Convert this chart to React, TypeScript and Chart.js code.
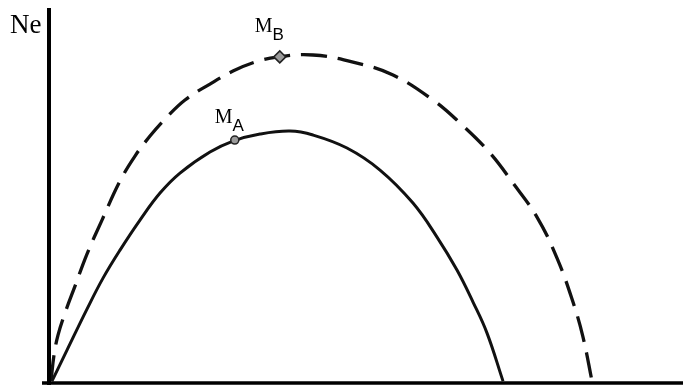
import React, { useEffect, useRef } from "react";
import { Chart, registerables } from "chart.js";

Chart.register(...registerables);

// Curve A (solid), arbitrary units
const solidX = [0.47, 2.84, 5.99, 8.52, 11.2, 14.35, 17.51, 20.66, 25.39, 29.02, 33.28, 38.01, 41.64, 47.0, 52.21, 57.41, 61.2, 64.35, 66.88, 69.09, 71.61];
const solidY = [0, 8.31, 19.3, 27.61, 35.12, 43.16, 50.4, 55.76, 61.39, 64.34, 66.22, 67.02, 65.95, 62.47, 56.57, 47.72, 38.61, 29.76, 21.18, 12.87, 0];

// Curve B (dashed)
const dashedX = [0.32, 0.79, 1.42, 2.52, 4.1, 5.99, 8.36, 11.2, 13.56, 15.93, 18.3, 21.45, 25.39, 29.02, 32.49, 35.96, 41.64, 47.95, 54.26, 60.57, 64.83, 69.56, 73.19, 76.97, 80.13, 82.65, 84.23, 85.65];
const dashedY = [0, 6.97, 12.33, 18.23, 25.47, 34.05, 43.16, 53.62, 60.32, 65.68, 70.24, 75.34, 79.62, 83.11, 85.52, 86.86, 87.4, 85.52, 82.04, 75.34, 69.17, 61.13, 53.08, 43.97, 32.98, 21.18, 11.8, 0];

// Marked points M_A, M_B
const markerNames = ["M", "M"];
const markerSubs = ["A", "B"];
const markerX = [29.3, 36.4];
const markerY = [64.6, 86.9];

const axisLabel = "Ne";

const toPts = (xs: number[], ys: number[]) => xs.map((x, i) => ({ x, y: ys[i] }));

const overlay = {
  id: "overlay",
  afterDatasetsDraw(chart: any) {
    const { ctx, chartArea } = chart;
    const xs = chart.scales.x;
    const ys = chart.scales.y;
    ctx.save();
    ctx.strokeStyle = "#000";
    // y axis
    ctx.lineWidth = 4;
    ctx.beginPath();
    ctx.moveTo(chartArea.left, chartArea.top);
    ctx.lineTo(chartArea.left, chart.height);
    ctx.stroke();
    // x axis
    ctx.lineWidth = 3.5;
    ctx.beginPath();
    ctx.moveTo(chartArea.left - 7, chartArea.bottom);
    ctx.lineTo(chartArea.right, chartArea.bottom);
    ctx.stroke();

    // axis label
    ctx.fillStyle = "#000";
    ctx.textBaseline = "alphabetic";
    ctx.textAlign = "left";
    ctx.font = "27px 'Liberation Serif', serif";
    ctx.fillText(axisLabel, chartArea.left - 39, chartArea.top + 25);

    // marker labels
    const offs = [
      { dx: -20, dy: -17 },
      { dx: -25, dy: -25 },
    ];
    markerNames.forEach((n, i) => {
      const px = xs.getPixelForValue(markerX[i]);
      const py = ys.getPixelForValue(markerY[i]);
      const o = offs[i];
      ctx.font = "20px 'Liberation Serif', serif";
      ctx.fillText(n, px + o.dx, py + o.dy);
      const w = ctx.measureText(n).width;
      ctx.font = "17px 'Liberation Sans', sans-serif";
      ctx.fillText(markerSubs[i], px + o.dx + w, py + o.dy + 8);
    });
    ctx.restore();
  },
};

export default function App() {
  const ref = useRef<HTMLCanvasElement | null>(null);
  useEffect(() => {
    if (!ref.current) return;
    const chart = new Chart(ref.current, {
      type: "scatter",
      data: {
        datasets: [
          {
            label: "markers",
            data: toPts(markerX, markerY),
            showLine: false,
            pointStyle: ["circle", "rectRot"],
            pointRadius: [4, 6],
            backgroundColor: "#9a9a9a",
            borderColor: "#222",
            borderWidth: 1.5,
          },
          {
            label: "A",
            data: toPts(solidX, solidY),
            showLine: true,
            borderColor: "#111",
            borderWidth: 3,
            pointRadius: 0,
            tension: 0.4,
            fill: false,
          },
          {
            label: "B",
            data: toPts(dashedX, dashedY),
            showLine: true,
            borderColor: "#111",
            borderWidth: 3.3,
            borderDash: [26, 11],
            pointRadius: 0,
            tension: 0.4,
            fill: false,
          },
        ],
      },
      options: {
        animation: false,
        responsive: false,
        maintainAspectRatio: false,
        layout: { autoPadding: false, padding: { left: 49, top: 8, right: 0, bottom: 2 } },
        plugins: { legend: { display: false }, tooltip: { enabled: false }, title: { display: false } },
        scales: {
          x: { type: "linear", display: false, min: 0, max: 100 },
          y: { type: "linear", display: false, min: -0.5, max: 100 },
        },
      },
      plugins: [overlay],
    });
    return () => chart.destroy();
  }, []);
  return (
    <div style={{ position: "fixed", left: 0, top: 0, width: 683, height: 385, background: "#fff" }}>
      <canvas ref={ref} width={683} height={385} style={{ width: 683, height: 385, display: "block" }} />
    </div>
  );
}
